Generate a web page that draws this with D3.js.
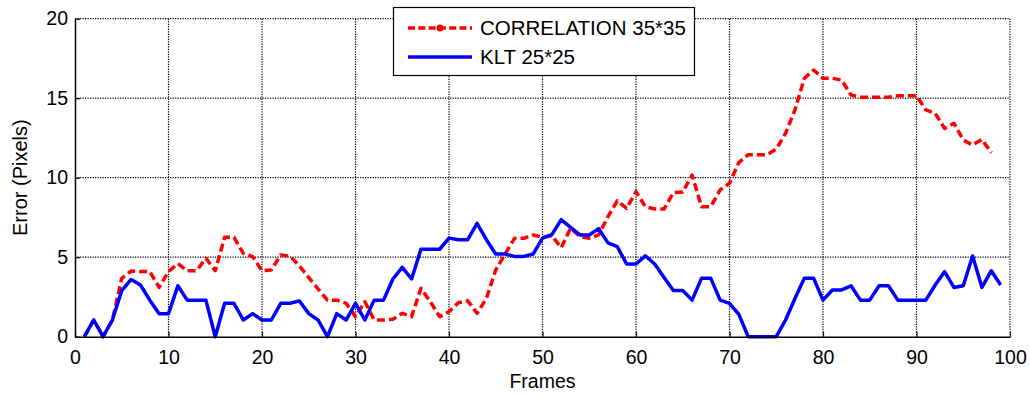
<!DOCTYPE html>
<html>
<head>
<meta charset="utf-8">
<script src="https://cdn.jsdelivr.net/npm/d3@7"></script>
<style>
  body { margin: 0; background: #fff; }
  svg { display: block; font-family: "Liberation Sans", Arial, sans-serif; }
</style>
</head>
<body>
<svg id="chart" width="1030" height="396"></svg>
<script>
const xTicks = [0, 10, 20, 30, 40, 50, 60, 70, 80, 90, 100];
const yTicks = [0, 5, 10, 15, 20];

const corrFrames = d3.range(1, 99);
const corrValues = [
  0, 1.05, 0, 1.05, 3.67, 4.13, 4.1, 4.1, 3.1, 4.1,
  4.6, 4.15, 4.15, 4.93, 4.15, 6.25, 6.25, 5.24, 5.03, 4.15,
  4.2, 5.14, 5.07, 4.45, 3.72, 3.0, 2.3, 2.3, 2.1, 1.26,
  2.2, 1.05, 1.05, 1.1, 1.47, 1.26, 3.04, 2.2, 1.26, 1.57,
  2.14, 2.26, 1.47, 2.41, 4.2, 5.2, 6.19, 6.19, 6.4, 6.25,
  6.35, 5.6, 6.82, 6.3, 6.19, 6.4, 7.55, 8.55, 8.07, 9.12,
  8.18, 8.03, 8.03, 9.06, 9.1, 10.17, 8.18, 8.18, 9.23, 9.65,
  10.95, 11.45, 11.45, 11.45, 11.8, 12.8, 14.26, 16.25, 16.77, 16.25,
  16.25, 16.14, 15.2, 15.06, 15.06, 15.06, 15.06, 15.16, 15.16, 15.16,
  14.26, 14.05, 13.1, 13.42, 12.37, 12.06, 12.4, 11.57
];

const kltFrames = d3.range(1, 100);
const kltValues = [
  0, 1.05, 0, 1.05, 2.9, 3.6, 3.25, 2.3, 1.45, 1.45,
  3.2, 2.3, 2.3, 2.3, 0, 2.1, 2.1, 1.05, 1.45, 1.05,
  1.05, 2.1, 2.1, 2.25, 1.45, 1.05, 0, 1.45, 1.05, 2.1,
  1.05, 2.3, 2.3, 3.63, 4.36, 3.63, 5.5, 5.5, 5.5, 6.2,
  6.1, 6.1, 7.13, 6.1, 5.2, 5.2, 5.05, 5.05, 5.2, 6.2,
  6.42, 7.36, 6.88, 6.4, 6.4, 6.8, 5.9, 5.66, 4.57, 4.57,
  5.08, 4.57, 3.73, 2.9, 2.9, 2.3, 3.67, 3.67, 2.3, 2.1,
  1.4, 0, 0, 0, 0, 1.05, 2.4, 3.67, 3.67, 2.3,
  2.94, 2.94, 3.2, 2.3, 2.3, 3.2, 3.2, 2.3, 2.3, 2.3,
  2.3, 3.25, 4.09, 3.1, 3.2, 5.08, 3.1, 4.15, 3.25
];

const seriesNames = ["CORRELATION 35*35", "KLT 25*25"];
const xLabel = "Frames";
const yLabel = "Error (Pixels)";

const svg = d3.select("#chart");
const L = 75, R = 1010, T = 18.7, B = 336.7;
const x = d3.scaleLinear().domain([0, 100]).range([L, R]);
const y = d3.scaleLinear().domain([0, 20]).range([B, T]);

// grid
const grid = svg.append("g").attr("stroke", "#000").attr("stroke-width", 1.2).attr("stroke-dasharray", "1.2,1.3");
grid.selectAll("line.v").data(xTicks.filter(d => d > 0)).enter().append("line")
  .attr("x1", d => x(d)).attr("x2", d => x(d)).attr("y1", T).attr("y2", B);
grid.selectAll("line.h").data(yTicks.filter(d => d > 0)).enter().append("line")
  .attr("x1", L).attr("x2", R).attr("y1", d => y(d)).attr("y2", d => y(d));

// lines
const line = d3.line().x(d => x(d[0])).y(d => y(d[1]));
const corrData = corrFrames.map((f, i) => [f, corrValues[i]]);
const kltData = kltFrames.map((f, i) => [f, kltValues[i]]);

svg.append("path").datum(corrData).attr("d", line)
  .attr("fill", "none").attr("stroke", "#ff0000").attr("stroke-width", 3.5)
  .attr("stroke-dasharray", "8,4").attr("stroke-linejoin", "round");
svg.append("path").datum(kltData).attr("d", line)
  .attr("fill", "none").attr("stroke", "#0000ff").attr("stroke-width", 3.5)
  .attr("stroke-linejoin", "round");

// axes
const xAxis = d3.axisBottom(x).tickValues(xTicks).tickSizeInner(-5).tickSizeOuter(0).tickPadding(13);
const yAxis = d3.axisLeft(y).tickValues(yTicks).tickSizeInner(-5).tickSizeOuter(0).tickPadding(7);
const gx = svg.append("g").attr("transform", `translate(0,${B})`).call(xAxis);
const gy = svg.append("g").attr("transform", `translate(${L},0)`).call(yAxis);
[gx, gy].forEach(g => {
  g.select(".domain").attr("stroke", "#000").attr("stroke-width", 1.5);
  g.selectAll(".tick line").attr("stroke", "#000").attr("stroke-width", 1.2);
  g.selectAll(".tick text").attr("fill", "#000").style("font-size", "19.5px")
    .style("font-family", "'Liberation Sans', Arial, sans-serif");
});

svg.append("text").attr("x", (L + R) / 2).attr("y", 388).attr("text-anchor", "middle")
  .style("font-size", "19.5px").attr("fill", "#000").text(xLabel);
svg.append("text").attr("transform", `translate(27,${(T + B) / 2}) rotate(-90)`)
  .attr("text-anchor", "middle").style("font-size", "20px").attr("fill", "#000").text(yLabel);

// legend
const lg = svg.append("g");
lg.append("rect").attr("x", 393.5).attr("y", 7.5).attr("width", 301).attr("height", 68)
  .attr("fill", "#fff").attr("stroke", "#000").attr("stroke-width", 1.2);
lg.append("line").attr("x1", 408).attr("x2", 472).attr("y1", 28).attr("y2", 28)
  .attr("stroke", "#ff0000").attr("stroke-width", 3.5).attr("stroke-dasharray", "7,3.3");
lg.append("circle").attr("cx", 440).attr("cy", 28).attr("r", 3.5).attr("fill", "#ff0000");
lg.append("line").attr("x1", 408).attr("x2", 472).attr("y1", 57).attr("y2", 57)
  .attr("stroke", "#0000ff").attr("stroke-width", 3.5);
lg.append("text").attr("x", 480).attr("y", 35).style("font-size", "20.5px").attr("fill", "#000").text(seriesNames[0]);
lg.append("text").attr("x", 480).attr("y", 64).style("font-size", "20.5px").attr("fill", "#000").text(seriesNames[1]);
</script>
</body>
</html>
